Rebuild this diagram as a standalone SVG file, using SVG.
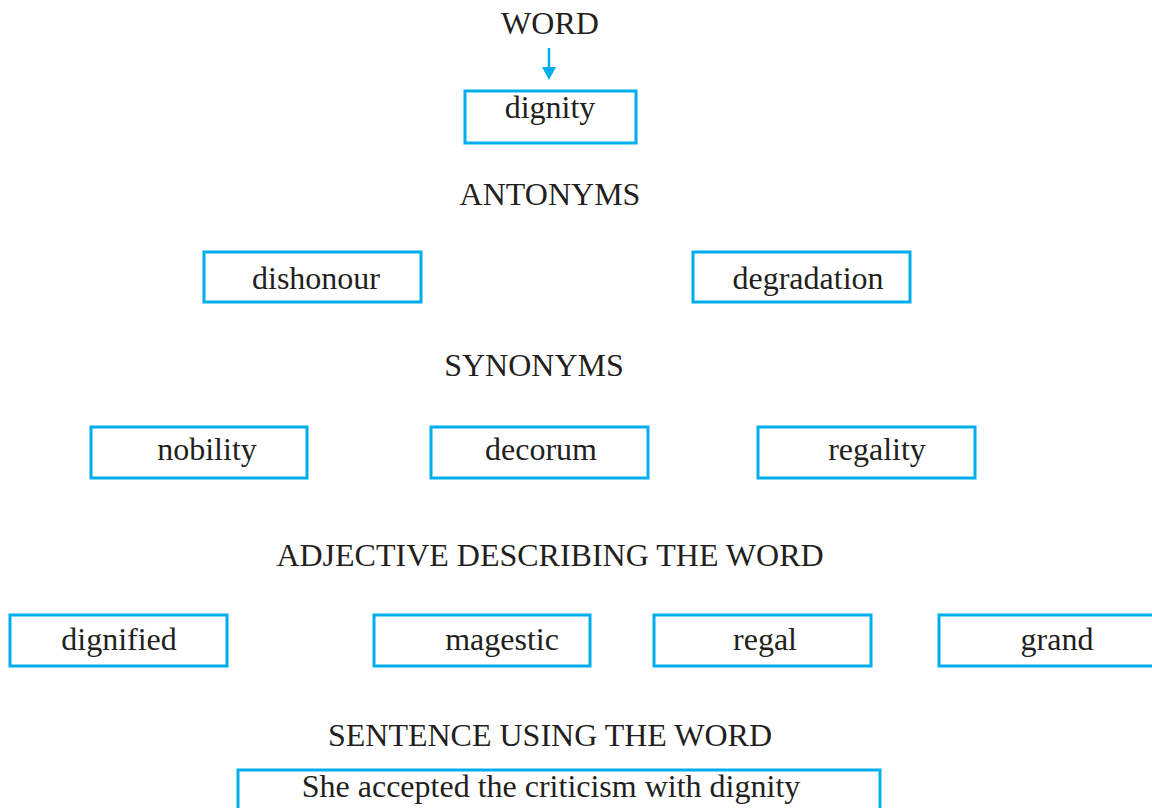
<svg xmlns="http://www.w3.org/2000/svg" width="1152" height="808" viewBox="0 0 1152 808">
<defs>
<style>
text{font-family:"Liberation Serif","Times New Roman",serif;font-size:32px;fill:#231f20;text-anchor:middle}
.box{fill:#fff;stroke:#00aeef;stroke-width:3}
.conn{stroke:#00aeef;stroke-width:2.5;fill:none}
</style>
</defs>
<rect width="1152" height="808" fill="#fff"/>
<g id="labels">
<text x="550" y="34">WORD</text>
<text x="550" y="205">ANTONYMS</text>
<text x="534" y="376">SYNONYMS</text>
<text x="550" y="566">ADJECTIVE DESCRIBING THE WORD</text>
<text x="550" y="746">SENTENCE USING THE WORD</text>
</g>
<g id="connectors">
<line class="conn" x1="549" y1="48" x2="549" y2="70"/>
<path d="M542,67 L556,67 L549,80 z" fill="#00aeef"/>
</g>
<g id="node-dignity"><rect class="box" x="465" y="91" width="171" height="52"/><text x="550" y="118">dignity</text></g>
<g id="node-dishonour"><rect class="box" x="204" y="252" width="217" height="50"/><text x="316" y="289">dishonour</text></g>
<g id="node-degradation"><rect class="box" x="693" y="252" width="217" height="50"/><text x="808" y="289">degradation</text></g>
<g id="node-nobility"><rect class="box" x="91" y="427" width="216" height="51"/><text x="207" y="460">nobility</text></g>
<g id="node-decorum"><rect class="box" x="431" y="427" width="217" height="51"/><text x="541" y="460">decorum</text></g>
<g id="node-regality"><rect class="box" x="758" y="427" width="217" height="51"/><text x="877" y="460">regality</text></g>
<g id="node-dignified"><rect class="box" x="10" y="615" width="217" height="51"/><text x="119" y="650">dignified</text></g>
<g id="node-magestic"><rect class="box" x="374" y="615" width="216" height="51"/><text x="502" y="650">magestic</text></g>
<g id="node-regal"><rect class="box" x="654" y="615" width="217" height="51"/><text x="765" y="650">regal</text></g>
<g id="node-grand"><rect class="box" x="939" y="615" width="220" height="51"/><text x="1057" y="650">grand</text></g>
<g id="node-sentence"><rect class="box" x="238" y="770" width="642" height="50"/><text x="551" y="797">She accepted the criticism with dignity</text></g>
</svg>
